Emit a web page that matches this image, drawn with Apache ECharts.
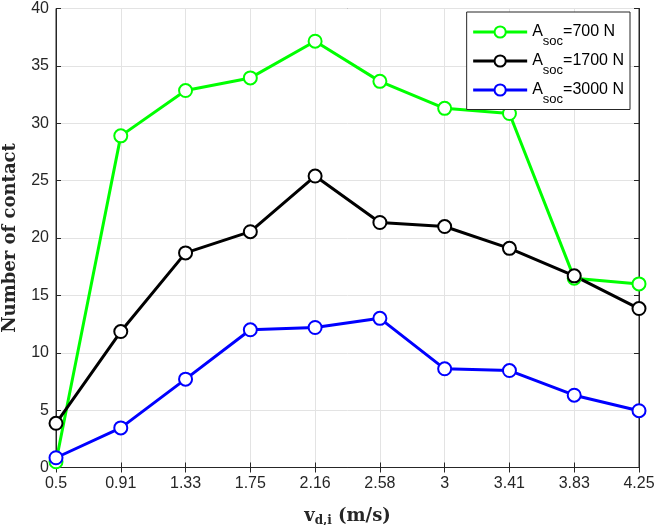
<!DOCTYPE html>
<html>
<head>
<meta charset="utf-8">
<script src="https://cdn.jsdelivr.net/npm/echarts@6/dist/echarts.min.js"></script>
<style>html,body{margin:0;padding:0;background:#fff}#c{width:658px;height:525px}</style>
</head>
<body>
<div id="c"></div>
<script>
var categories = ['0.5','0.91','1.33','1.75','2.16','2.58','3','3.41','3.83','4.25'];
var seriesNames = ['{m|A}{sub|soc}{m|=700 N}','{m|A}{sub|soc}{m|=1700 N}','{m|A}{sub|soc}{m|=3000 N}'];
var s700  = [0.5, 28.9, 32.85, 33.95, 37.15, 33.65, 31.3, 30.85, 16.5, 16.0];
var s1700 = [3.85, 11.85, 18.7, 20.55, 25.4, 21.35, 21.0, 19.1, 16.7, 13.85];
var s3000 = [0.85, 3.45, 7.7, 12.0, 12.2, 13.0, 8.6, 8.45, 6.3, 4.95];
var yTicks = [0, 5, 10, 15, 20, 25, 30, 35, 40];
var colors = ['#00ff00', '#000000', '#0000ff'];

var chart = echarts.init(document.getElementById('c'), null, {renderer: 'canvas'});
var tickFont = {fontFamily: 'Liberation Sans, Arial, sans-serif', fontSize: 16, color: '#262626'};
function mk(name, data, color) {
  return {
    name: name, type: 'line', data: data,
    symbol: 'emptyCircle', symbolSize: 13,
    lineStyle: {color: color, width: 3},
    itemStyle: {color: color, borderColor: color, borderWidth: 3},
    emphasis: {disabled: true},
    z: 3
  };
}
chart.setOption({
  animation: false,
  grid: {left: 56, right: 19, top: 8.5, bottom: 57.5, containLabel: false, outerBoundsMode: 'none',
    show: true, borderColor: '#262626', borderWidth: 1, backgroundColor: 'transparent'},
  legend: {
    right: 28, top: 12,
    orient: 'vertical',
    backgroundColor: '#fff',
    borderColor: '#262626', borderWidth: 1,
    padding: [12, 6, 4, 5],
    itemWidth: 54, itemHeight: 14, itemGap: 5.5,
    lineStyle: {width: 3},
    itemStyle: {borderWidth: 3},
    data: seriesNames,
    textStyle: {
      color: '#000',
      rich: {
        m: {fontFamily: 'Liberation Sans, Arial, sans-serif', fontSize: 16, color: '#000'},
        sub: {fontFamily: 'Liberation Sans, Arial, sans-serif', fontSize: 13, color: '#000', padding: [18, 0, 0, 0]}
      }
    }
  },
  xAxis: [{
    type: 'category', data: categories, boundaryGap: false,
    name: 'v{sub|d,i} (m/s)', nameLocation: 'middle', nameGap: 38,
    nameTextStyle: {fontFamily: 'DejaVu Serif, serif', fontWeight: 'bold', fontSize: 18, color: '#262626',
      rich: {sub: {fontFamily: 'DejaVu Serif, serif', fontWeight: 'bold', fontSize: 12, color: '#262626', padding: [9, 0, 0, 0]}}},
    axisLine: {show: true, lineStyle: {color: '#262626'}},
    axisTick: {show: true, inside: true, length: 5, alignWithLabel: true, lineStyle: {color: '#262626'}},
    axisLabel: Object.assign({margin: 8}, tickFont),
    splitLine: {show: true, lineStyle: {color: '#e3e3e3', width: 1}}
  }, {
    type: 'category', data: categories, boundaryGap: false, position: 'top',
    axisLine: {show: true, lineStyle: {color: '#262626'}},
    axisTick: {show: true, inside: true, length: 5, lineStyle: {color: '#262626'}},
    axisLabel: {show: false}, splitLine: {show: false}
  }],
  yAxis: [{
    type: 'value', min: 0, max: 40, interval: 5,
    name: 'Number of contact', nameLocation: 'middle', nameGap: 37,
    nameTextStyle: {fontFamily: 'DejaVu Serif, serif', fontWeight: 'bold', fontSize: 18, color: '#262626'},
    axisLine: {show: true, lineStyle: {color: '#262626'}},
    axisTick: {show: true, inside: true, length: 5, lineStyle: {color: '#262626'}},
    axisLabel: Object.assign({margin: 7, formatter: function (v) { return yTicks.indexOf(v) >= 0 ? String(v) : ''; }}, tickFont),
    splitLine: {show: true, lineStyle: {color: '#e3e3e3', width: 1}}
  }, {
    type: 'value', min: 0, max: 40, interval: 5, position: 'right',
    axisLine: {show: true, lineStyle: {color: '#262626'}},
    axisTick: {show: true, inside: true, length: 5, lineStyle: {color: '#262626'}},
    axisLabel: {show: false}, splitLine: {show: false}
  }],
  series: [mk(seriesNames[0], s700, colors[0]), mk(seriesNames[1], s1700, colors[1]), mk(seriesNames[2], s3000, colors[2])]
});
</script>
</body>
</html>
